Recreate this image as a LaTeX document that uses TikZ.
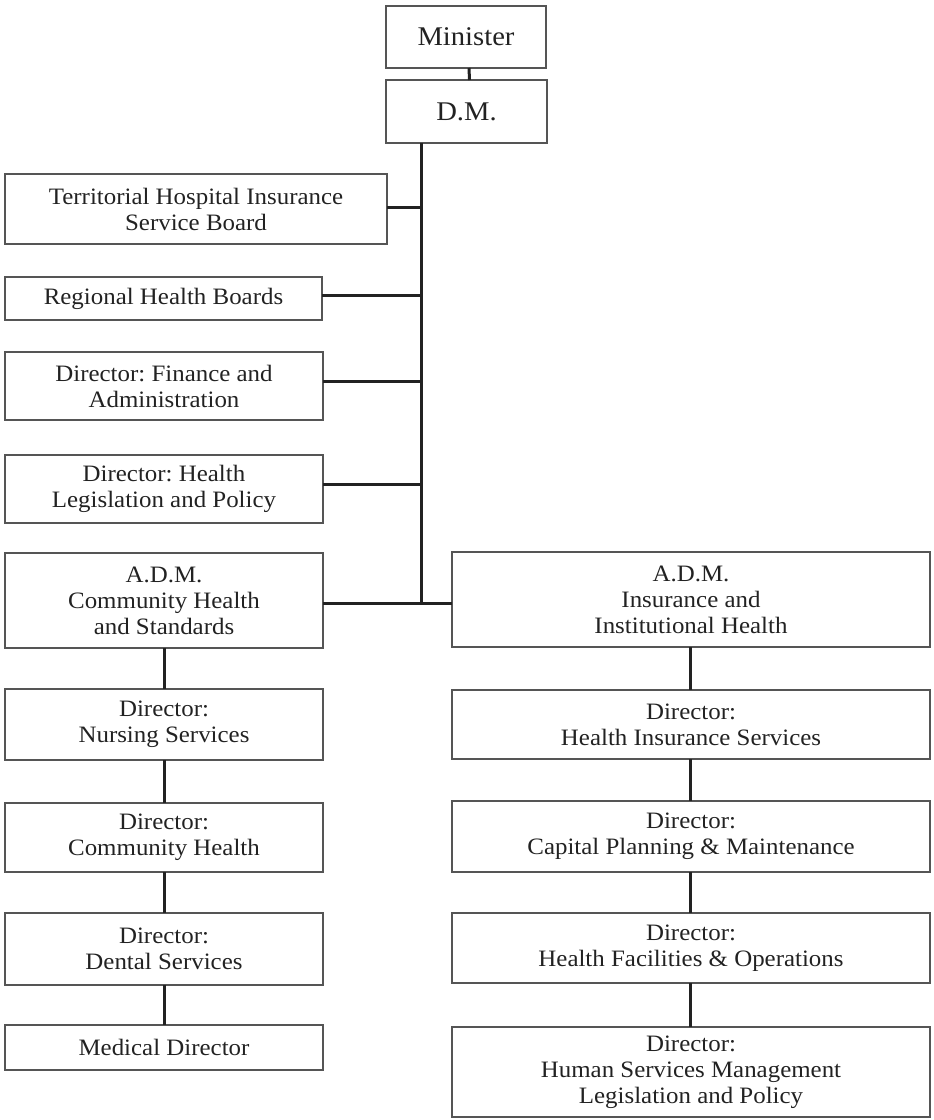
\documentclass[tikz,border=0pt]{standalone}
\usepackage{fontspec}
\setmainfont{Liberation Serif}[FakeStretch=1.06]
\frenchspacing
\definecolor{boxline}{HTML}{555555}
\definecolor{conline}{HTML}{222222}
\definecolor{txt}{HTML}{222222}
\begin{document}
\begin{tikzpicture}[x=1pt,y=-1pt,
  orgbox/.style={draw=boxline, line width=1.3pt, inner sep=0pt, outer sep=0pt,
    align=center, text=txt, font=\fontsize{23.5}{26}\selectfont},
  topbox/.style={orgbox, font=\fontsize{27}{30}\selectfont},
  conn/.style={draw=conline, line width=3pt}]
\useasboundingbox (0,0) rectangle (934,1120);
% top
\node[topbox, minimum width=160pt, minimum height=62pt] (min) at (466,37) {Minister};
\node[topbox, minimum width=161pt, minimum height=63pt] (dm) at (466.5,111.5) {D.M.};
% left staff boxes
\node[orgbox, minimum width=382pt, minimum height=70pt] (thisb) at (196,209) {Territorial Hospital Insurance\\Service Board};
\node[orgbox, minimum width=317pt, minimum height=43pt] (rhb) at (163.5,298.5) {Regional Health Boards};
\node[orgbox, minimum width=318pt, minimum height=68pt] (fin) at (164,386) {Director: Finance and\\Administration};
\node[orgbox, minimum width=318pt, minimum height=68pt] (leg) at (164,489) {Director: Health\\Legislation and Policy};
% ADMs
\node[orgbox, minimum width=318pt, minimum height=95pt] (adma) at (164,600.5) {A.D.M.\\Community Health\\and Standards};
\node[orgbox, minimum width=478pt, minimum height=95pt] (admb) at (691,599.5) {A.D.M.\\Insurance and\\Institutional Health};
% left column
\node[orgbox, minimum width=318pt, minimum height=71pt] (nur) at (164,724.5) {Director:\\Nursing Services};
\node[orgbox, minimum width=318pt, minimum height=69pt] (com) at (164,837.5) {Director:\\Community Health};
\node[orgbox, minimum width=318pt, minimum height=72pt] (den) at (164,949) {Director:\\Dental Services};
\node[orgbox, minimum width=318pt, minimum height=45pt] (med) at (164,1047.5) {Medical Director};
% right column
\node[orgbox, minimum width=478pt, minimum height=69pt] (his) at (691,724.5) {Director:\\Health Insurance Services};
\node[orgbox, minimum width=478pt, minimum height=71pt] (cap) at (691,836.5) {Director:\\Capital Planning \& Maintenance};
\node[orgbox, minimum width=478pt, minimum height=70pt] (fac) at (691,948) {Director:\\Health Facilities \& Operations};
\node[orgbox, minimum width=478pt, minimum height=90pt] (hsm) at (691,1072) {Director:\\Human Services Management\\Legislation and Policy};
% connectors
\coordinate (trunk) at (421,603);
\draw[conn] ([xshift=3pt]min.south) -- ([xshift=3pt]dm.north);
\draw[conn] ([xshift=-45.5pt]dm.south) -- (trunk);
\draw[conn] ([yshift=2pt]thisb.east) -- ([yshift=2pt]thisb.east -| trunk);
\draw[conn] ([yshift=3pt]rhb.east) -- ([yshift=3pt]rhb.east -| trunk);
\draw[conn] ([yshift=5pt]fin.east) -- ([yshift=5pt]fin.east -| trunk);
\draw[conn] ([yshift=5pt]leg.east) -- ([yshift=5pt]leg.east -| trunk);
\draw[conn] ([yshift=-2.5pt]adma.east) -- ([yshift=-3.5pt]admb.west);
\draw[conn] (adma.south) -- (nur.north);
\draw[conn] (nur.south) -- (com.north);
\draw[conn] (com.south) -- (den.north);
\draw[conn] (den.south) -- (med.north);
\draw[conn] ([xshift=-1pt]admb.south) -- ([xshift=-1pt]his.north);
\draw[conn] ([xshift=-1pt]his.south) -- ([xshift=-1pt]cap.north);
\draw[conn] ([xshift=-1pt]cap.south) -- ([xshift=-1pt]fac.north);
\draw[conn] ([xshift=-1pt]fac.south) -- ([xshift=-1pt]hsm.north);
\end{tikzpicture}
\end{document}
